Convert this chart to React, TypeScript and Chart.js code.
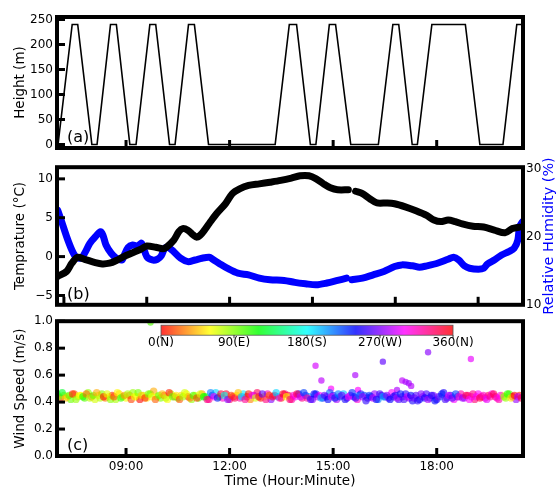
import { useEffect, useRef } from 'react';
import { Chart, registerables } from 'chart.js';

Chart.register(...registerables);

// ---------- data ----------
const heightTimes = [7.03, 7.44, 7.60, 8.01, 8.16, 8.55, 8.72, 9.11, 9.29, 9.69, 9.86, 10.26, 10.42, 10.81, 10.98, 11.39, 13.32, 13.73, 13.94, 14.34, 14.50, 14.89, 15.07, 15.51, 16.31, 16.73, 16.90, 17.29, 17.44, 17.86, 18.83, 19.25, 19.92, 20.32, 20.5];
const heightValues = [0, 240, 240, 0, 0, 240, 240, 0, 0, 240, 240, 0, 0, 240, 240, 0, 0, 240, 240, 0, 0, 240, 240, 0, 0, 240, 240, 0, 0, 240, 240, 0, 0, 240, 240];

const tempTimes = [7.02, 7.28, 7.43, 7.59, 7.80, 8.11, 8.31, 8.52, 8.72, 8.93, 9.19, 9.45, 9.60, 9.86, 10.07, 10.17, 10.38, 10.53, 10.64, 10.79, 10.95, 11.05, 11.20, 11.41, 11.62, 11.88, 12.08, 12.29, 12.55, 12.86, 13.17, 13.48, 13.79, 14.04, 14.30, 14.51, 14.72, 14.92, 15.13, 15.44, 15.55, 15.65, 15.85, 16.06, 16.27, 16.57, 16.78, 17.09, 17.40, 17.71, 17.92, 18.12, 18.33, 18.54, 18.74, 19.05, 19.36, 19.67, 19.98, 20.19, 20.40];
const tempValues = [-2.55, -1.9, -0.85, -0.1, -0.35, -0.77, -0.94, -0.85, -0.5, 0, 0.5, 1.0, 1.36, 1.2, 1.0, 1.2, 2.1, 3.2, 3.6, 3.4, 2.77, 2.5, 3.0, 4.26, 5.5, 6.8, 8.1, 8.7, 9.15, 9.36, 9.57, 9.8, 10.1, 10.4, 10.4, 10.0, 9.36, 8.85, 8.6, 8.6, null, 8.4, 8.1, 7.45, 6.9, 6.9, 6.8, 6.4, 5.9, 5.3, 4.7, 4.5, 4.7, 4.5, 4.2, 3.9, 3.8, 3.4, 3.06, 3.6, 3.8];

const rhTimes = [7.02, 7.12, 7.28, 7.43, 7.54, 7.69, 7.80, 7.95, 8.11, 8.26, 8.33, 8.42, 8.57, 8.72, 8.88, 8.95, 9.06, 9.19, 9.34, 9.45, 9.60, 9.76, 9.91, 10.02, 10.12, 10.22, 10.38, 10.58, 10.79, 11.00, 11.20, 11.41, 11.51, 11.72, 11.93, 12.24, 12.55, 12.86, 13.17, 13.58, 13.89, 14.20, 14.51, 14.82, 15.13, 15.39, 15.47, 15.54, 15.85, 16.16, 16.47, 16.78, 16.99, 17.30, 17.50, 17.71, 18.02, 18.33, 18.49, 18.64, 18.80, 18.95, 19.21, 19.36, 19.47, 19.67, 19.88, 20.09, 20.24, 20.35, 20.40, 20.48];
const rhValues = [23.88, 22.42, 19.99, 18.04, 17.08, 16.84, 17.57, 19.02, 19.99, 20.72, 20.24, 18.78, 17.57, 16.84, 16.58, 17.31, 18.43, 18.78, 18.63, 19.02, 17.08, 16.58, 16.69, 17.18, 18.28, 18.43, 17.81, 16.84, 16.34, 16.58, 16.84, 16.97, 16.69, 16.00, 15.37, 14.64, 14.40, 13.91, 13.67, 13.58, 13.29, 13.09, 12.94, 13.20, 13.58, 13.91, null, 13.67, 13.91, 14.40, 14.90, 15.61, 15.86, 15.72, 15.52, 15.72, 16.10, 16.69, 16.97, 16.58, 15.72, 15.37, 15.23, 15.37, 16.00, 16.58, 17.31, 17.81, 18.28, 19.51, 21.45, 22.18];

const windTimes = [
  7.0, 7.1, 7.2, 7.3, 7.4, 7.5, 7.6, 7.7, 7.8, 7.9,
  8.0, 8.1, 8.2, 8.3, 8.4, 8.5, 8.6, 8.7, 8.8, 8.9,
  9.0, 9.1, 9.2, 9.3, 9.4, 9.5, 9.6, 9.7, 9.8, 9.9,
  10.0, 10.1, 10.2, 10.3, 10.4, 10.5, 10.6, 10.7, 10.8, 10.9,
  11.0, 11.1, 11.2, 11.3, 11.4, 11.5, 11.6, 11.7, 11.8, 11.9,
  12.0, 12.1, 12.2, 12.3, 12.4, 12.5, 12.6, 12.7, 12.8, 12.9,
  13.0, 13.1, 13.2, 13.3, 13.4, 13.5, 13.6, 13.7, 13.8, 13.9,
  14.0, 14.1, 14.2, 14.3, 14.4, 14.5, 14.6, 14.7, 14.8, 14.9,
  15.0, 15.1, 15.2, 15.3, 15.4, 15.5, 15.6, 15.7, 15.8, 15.9,
  16.0, 16.1, 16.2, 16.3, 16.4, 16.5, 16.6, 16.7, 16.8, 16.9,
  17.0, 17.1, 17.2, 17.3, 17.4, 17.5, 17.6, 17.7, 17.8, 17.9,
  18.0, 18.1, 18.2, 18.3, 18.4, 18.5, 18.6, 18.7, 18.8, 18.9,
  19.0, 19.1, 19.2, 19.3, 19.4, 19.5, 19.6, 19.7, 19.8, 19.9,
  20.0, 20.1, 20.2, 20.3, 20.4,
];
const windSpeeds = [
  0.46, 0.43, 0.45, 0.44, 0.42, 0.46, 0.44, 0.45, 0.43, 0.47,
  0.44, 0.42, 0.45, 0.46, 0.43, 0.44, 0.45, 0.42, 0.46, 0.44,
  0.43, 0.45, 0.47, 0.44, 0.42, 0.45, 0.43, 0.46, 0.48, 0.44,
  0.43, 0.45, 0.42, 0.46, 0.44, 0.43, 0.45, 0.47, 0.44, 0.42,
  0.45, 0.43, 0.46, 0.44, 0.42, 0.45, 0.47, 0.44, 0.43, 0.46,
  0.42, 0.44, 0.45, 0.43, 0.46, 0.44, 0.42, 0.45, 0.47, 0.43,
  0.44, 0.46, 0.42, 0.45, 0.44, 0.43, 0.46, 0.45, 0.42, 0.44,
  0.46, 0.43, 0.45, 0.44, 0.42, 0.46, 0.45, 0.43, 0.44, 0.47,
  0.45, 0.42, 0.44, 0.46, 0.43, 0.45, 0.44, 0.42, 0.46, 0.45,
  0.43, 0.44, 0.46, 0.42, 0.45, 0.44, 0.43, 0.47, 0.45, 0.42,
  0.44, 0.46, 0.43, 0.41, 0.45, 0.42, 0.44, 0.46, 0.43, 0.45,
  0.42, 0.44, 0.47, 0.43, 0.45, 0.42, 0.44, 0.46, 0.43, 0.45,
  0.44, 0.42, 0.46, 0.44, 0.43, 0.45, 0.46, 0.44, 0.42, 0.45,
  0.43, 0.46, 0.44, 0.42, 0.45,
];
const windDirs = [
  110, 5, 80, 65, 95, 20, 75, 60, 100, 85,
  15, 70, 55, 90, 30, 62, 8, 80, 50, 95,
  58, 25, 85, 65, 2, 72, 55, 100, 40, 68,
  90, 12, 60, 78, 28, 95, 50, 70, 18, 85,
  62, 100, 35, 110, 325, 240, 190, 105, 310, 350,
  335, 10, 60, 320, 185, 355, 30, 280, 340, 5,
  55, 320, 270, 345, 200, 15, 330, 350, 320, 300,
  240, 330, 250, 205, 270, 235, 300, 245, 260, 215,
  250, 280, 230, 195, 255, 270, 240, 310, 245, 225,
  260, 240, 275, 210, 250, 235, 265, 300, 245, 255,
  270, 250, 280, 245, 260, 240, 275, 255, 235, 265,
  250, 205, 245, 270, 240, 300, 260, 320, 285, 330,
  310, 335, 300, 325, 315, 340, 305, 330, 320, 60,
  85, 100, 350, 275, 5,
];
const windTimesHalf = [
  7.05, 7.15, 7.25, 7.35, 7.45, 7.55, 7.65, 7.75, 7.85, 7.95,
  8.05, 8.15, 8.25, 8.35, 8.45, 8.55, 8.65, 8.75, 8.85, 8.95,
  9.05, 9.15, 9.25, 9.35, 9.45, 9.55, 9.65, 9.75, 9.85, 9.95,
  10.05, 10.15, 10.25, 10.35, 10.45, 10.55, 10.65, 10.75, 10.85, 10.95,
  11.05, 11.15, 11.25, 11.35, 11.45, 11.55, 11.65, 11.75, 11.85, 11.95,
  12.05, 12.15, 12.25, 12.35, 12.45, 12.55, 12.65, 12.75, 12.85, 12.95,
  13.05, 13.15, 13.25, 13.35, 13.45, 13.55, 13.65, 13.75, 13.85, 13.95,
  14.05, 14.15, 14.25, 14.35, 14.45, 14.55, 14.65, 14.75, 14.85, 14.95,
  15.05, 15.15, 15.25, 15.35, 15.45, 15.55, 15.65, 15.75, 15.85, 15.95,
  16.05, 16.15, 16.25, 16.35, 16.45, 16.55, 16.65, 16.75, 16.85, 16.95,
  17.05, 17.15, 17.25, 17.35, 17.45, 17.55, 17.65, 17.75, 17.85, 17.95,
  18.05, 18.15, 18.25, 18.35, 18.45, 18.55, 18.65, 18.75, 18.85, 18.95,
  19.05, 19.15, 19.25, 19.35, 19.45, 19.55, 19.65, 19.75, 19.85, 19.95,
  20.05, 20.15, 20.25, 20.35, 20.45,
];
const windSpeedsHalf = [
  0.44, 0.47, 0.43, 0.45, 0.46, 0.42, 0.45, 0.44, 0.46, 0.43,
  0.45, 0.47, 0.43, 0.44, 0.46, 0.42, 0.44, 0.47, 0.43, 0.45,
  0.46, 0.42, 0.44, 0.47, 0.45, 0.43, 0.46, 0.44, 0.42, 0.45,
  0.46, 0.43, 0.47, 0.44, 0.45, 0.42, 0.44, 0.46, 0.43, 0.45,
  0.43, 0.46, 0.44, 0.42, 0.47, 0.44, 0.43, 0.46, 0.45, 0.42,
  0.45, 0.43, 0.47, 0.44, 0.42, 0.46, 0.45, 0.43, 0.44, 0.46,
  0.42, 0.45, 0.44, 0.47, 0.43, 0.46, 0.44, 0.42, 0.45, 0.46,
  0.44, 0.47, 0.43, 0.42, 0.46, 0.44, 0.43, 0.45, 0.42, 0.44,
  0.43, 0.46, 0.45, 0.42, 0.44, 0.47, 0.43, 0.45, 0.44, 0.41,
  0.45, 0.43, 0.42, 0.46, 0.44, 0.45, 0.42, 0.44, 0.43, 0.46,
  0.42, 0.44, 0.45, 0.43, 0.41, 0.46, 0.43, 0.42, 0.45, 0.41,
  0.44, 0.46, 0.42, 0.45, 0.43, 0.46, 0.44, 0.43, 0.45, 0.42,
  0.46, 0.44, 0.43, 0.45, 0.42, 0.44, 0.46, 0.43, 0.45, 0.44,
  0.46, 0.43, 0.45, 0.44, 0.43,
];
const windDirsHalf = [
  90, 130, 45, 100, 10, 85, 60, 115, 25, 75,
  95, 40, 78, 5, 66, 88, 20, 58, 105, 35,
  80, 15, 62, 92, 48, 10, 88, 60, 22, 95,
  45, 75, 8, 98, 55, 20, 82, 64, 30, 105,
  15, 70, 120, 330, 210, 300, 235, 345, 175, 270,
  15, 340, 45, 195, 325, 8, 305, 70, 350, 260,
  330, 20, 345, 190, 315, 355, 60, 335, 310, 345,
  290, 225, 320, 255, 240, 280, 200, 260, 240, 290,
  235, 210, 265, 245, 300, 230, 255, 215, 275, 250,
  230, 285, 245, 255, 200, 270, 240, 250, 280, 235,
  255, 285, 240, 265, 250, 270, 245, 280, 250, 240,
  270, 235, 255, 290, 260, 225, 310, 275, 340, 300,
  330, 300, 345, 315, 295, 325, 340, 310, 300, 85,
  110, 55, 0, 285, 345,
];
const gustTimes = [9.71, 14.49, 14.66, 14.94, 15.64, 15.72, 16.44, 16.85, 17.0, 17.1, 17.19, 17.26, 17.75, 18.99];
const gustSpeeds = [0.99, 0.67, 0.56, 0.50, 0.60, 0.49, 0.70, 0.49, 0.56, 0.55, 0.54, 0.52, 0.77, 0.72];
const gustDirs = [100, 290, 285, 300, 280, 300, 262, 280, 285, 280, 278, 282, 272, 295];

const timeTicks = [9, 12, 15, 18];
const panelBTimeTicks = [7.2, 9.6, 12.0, 14.4, 16.8, 19.2];
const heightTicks = [0, 50, 100, 150, 200, 250];
const tempTicks = [-5, 0, 5, 10];
const rhTicks = [10, 20, 30];
const speedTicks = [0, 0.2, 0.4, 0.6, 0.8, 1.0];
const dirTickValues = [0, 90, 180, 270, 360];
const dirTickLabels = ['0(N)', '90(E)', '180(S)', '270(W)', '360(N)'];

// ---------- helpers ----------
const FONT = '"DejaVu Sans"';
Chart.defaults.font.family = FONT;
Chart.defaults.font.size = 12;
Chart.defaults.color = '#000';

const dirColor = (d: number, a: number) => `hsla(${d % 360}, 100%, 50%, ${a})`;
const fmtTime = (v: number) => `${String(Math.floor(v)).padStart(2, '0')}:00`;
const minus = (s: string) => s.replace('-', '\u2212');

const setTicks = (vals: number[]) => (s: any) => {
  s.ticks = vals.map((v) => ({ value: v }));
};

const framePlugin = {
  id: 'frame',
  afterDatasetsDraw(chart: any, _args: any, opts: any) {
    const { ctx, chartArea: ca } = chart;
    ctx.save();
    ctx.strokeStyle = '#000';
    ctx.lineWidth = 3;
    const ys = chart.scales[opts.yId || 'y'];
    for (const v of opts.yTicks || []) {
      const y = ys.getPixelForValue(v);
      ctx.beginPath();
      ctx.moveTo(ca.left, y);
      ctx.lineTo(ca.left + 8, y);
      ctx.stroke();
    }
    const xs = chart.scales.x;
    for (const v of opts.xTicks || []) {
      const x = xs.getPixelForValue(v);
      ctx.beginPath();
      ctx.moveTo(x, ca.bottom);
      ctx.lineTo(x, ca.bottom - 8);
      ctx.stroke();
    }
    if (opts.colorbar) {
      const x0 = ca.left + (ca.right - ca.left) * 0.2232;
      const x1 = ca.left + (ca.right - ca.left) * 0.8498;
      const y0 = ca.top + 4;
      const h = 10;
      const g = ctx.createLinearGradient(x0, 0, x1, 0);
      for (let d = 0; d <= 360; d += 15) g.addColorStop(d / 360, dirColor(d, 0.8));
      ctx.fillStyle = g;
      ctx.fillRect(x0, y0, x1 - x0, h);
      ctx.lineWidth = 0.8;
      ctx.strokeStyle = '#555';
      ctx.strokeRect(x0, y0, x1 - x0, h);
      ctx.fillStyle = '#000';
      ctx.font = `12px ${FONT}`;
      ctx.textAlign = 'center';
      ctx.textBaseline = 'top';
      ctx.lineWidth = 0.8;
      ctx.strokeStyle = '#000';
      dirTickValues.forEach((d, i) => {
        const x = x0 + ((x1 - x0) * d) / 360;
        ctx.beginPath();
        ctx.moveTo(x, y0 + h);
        ctx.lineTo(x, y0 + h + 3);
        ctx.stroke();
        ctx.fillText(dirTickLabels[i], x, y0 + h + 2);
      });
    }
    ctx.lineWidth = 4;
    ctx.strokeStyle = '#000';
    ctx.strokeRect(ca.left, ca.top, ca.right - ca.left, ca.bottom - ca.top);
    if (opts.label) {
      ctx.fillStyle = '#000';
      ctx.font = `16px ${FONT}`;
      ctx.textAlign = 'left';
      ctx.textBaseline = 'middle';
      ctx.fillText(opts.label, ca.left + 10, ca.bottom - 10);
    }
    if (opts.rightTitle) {
      ctx.save();
      ctx.translate(549, (ca.top + ca.bottom) / 2);
      ctx.rotate(-Math.PI / 2);
      ctx.fillStyle = '#0000ff';
      ctx.font = `14.4px ${FONT}`;
      ctx.textAlign = 'center';
      ctx.textBaseline = 'middle';
      ctx.fillText(opts.rightTitle, 0, 0);
      ctx.restore();
    }
    ctx.restore();
  },
};

const hiddenX = { type: 'linear', display: false, min: 7, max: 20.5 };

const leftY = (min: number, max: number, ticks: number[], title: string, fmt: (v: number) => string) => ({
  type: 'linear',
  position: 'left',
  min,
  max,
  afterBuildTicks: setTicks(ticks),
  afterFit: (s: any) => {
    s.width = 57;
  },
  grid: { display: false, drawTicks: false },
  border: { display: false },
  ticks: { padding: 4, color: '#000', font: { size: 12 }, callback: (v: any) => fmt(Number(v)) },
  title: { display: true, text: title, color: '#000', font: { size: 13.5 }, padding: { top: 12, bottom: 0 } },
});

export default function App() {
  const refA = useRef<HTMLCanvasElement>(null);
  const refB = useRef<HTMLCanvasElement>(null);
  const refC = useRef<HTMLCanvasElement>(null);

  useEffect(() => {
    const charts: Chart[] = [];

    charts.push(
      new Chart(refA.current!, {
        type: 'line',
        data: {
          datasets: [
            {
              data: heightTimes.map((t, i) => ({ x: t, y: heightValues[i] })),
              borderColor: '#000',
              borderWidth: 1.6,
              pointRadius: 0,
              tension: 0,
            },
          ],
        },
        options: {
          responsive: false,
          animation: false,
          devicePixelRatio: 1,
          layout: { padding: { top: 17, bottom: 12, left: 0, right: 35 } },
          scales: {
            x: hiddenX as any,
            y: leftY(-7, 255, heightTicks, 'Height (m)', (v) => String(v)) as any,
          },
          plugins: {
            legend: { display: false },
            tooltip: { enabled: false },
            frame: { yTicks: heightTicks, xTicks: timeTicks, label: '(a)' },
          } as any,
        },
        plugins: [framePlugin],
      })
    );

    charts.push(
      new Chart(refB.current!, {
        type: 'line',
        data: {
          datasets: [
            {
              data: tempTimes.map((t, i) => ({ x: t, y: tempValues[i] })) as any,
              borderColor: '#000',
              borderWidth: 7,
              borderCapStyle: 'round',
              borderJoinStyle: 'round',
              pointRadius: 0,
              tension: 0.3,
              spanGaps: false,
              yAxisID: 'y',
            },
            {
              data: rhTimes.map((t, i) => ({ x: t, y: rhValues[i] })) as any,
              borderColor: '#0000ff',
              borderWidth: 7,
              borderCapStyle: 'round',
              borderJoinStyle: 'round',
              pointRadius: 0,
              tension: 0.3,
              spanGaps: false,
              yAxisID: 'y2',
            },
          ],
        },
        options: {
          responsive: false,
          animation: false,
          devicePixelRatio: 1,
          layout: { padding: { top: 10.5, bottom: 11, left: 0, right: 0 } },
          scales: {
            x: hiddenX as any,
            y: leftY(-6.2, 11.5, tempTicks, 'Temprature (\u00B0C)', (v) => minus(String(v))) as any,
            y2: {
              type: 'linear',
              position: 'right',
              min: 10,
              max: 30.2,
              afterBuildTicks: setTicks(rhTicks),
              afterFit: (s: any) => {
                s.width = 35;
              },
              grid: { display: false, drawTicks: false },
              border: { display: false },
              ticks: { padding: 3, color: '#000', font: { size: 12 } },
            } as any,
          },
          plugins: {
            legend: { display: false },
            tooltip: { enabled: false },
            frame: { yTicks: tempTicks, xTicks: panelBTimeTicks, label: '(b)', rightTitle: 'Relative Humidity (%)' },
          } as any,
        },
        plugins: [framePlugin],
      })
    );

    const bandTimes = windTimes.concat(windTimesHalf);
    const bandSpeeds = windSpeeds.concat(windSpeedsHalf);
    const bandDirs = windDirs.concat(windDirsHalf);

    charts.push(
      new Chart(refC.current!, {
        type: 'scatter',
        data: {
          datasets: [
            {
              data: bandTimes.map((t, i) => ({ x: t, y: bandSpeeds[i] })),
              pointRadius: 3.7,
              pointBorderWidth: 0,
              pointBackgroundColor: bandDirs.map((d) => dirColor(d, 0.6)),
            },
            {
              data: gustTimes.map((t, i) => ({ x: t, y: gustSpeeds[i] })),
              pointRadius: 3.2,
              pointBorderWidth: 0,
              pointBackgroundColor: gustDirs.map((d) => dirColor(d, 0.65)),
            },
          ],
        },
        options: {
          responsive: false,
          animation: false,
          devicePixelRatio: 1,
          layout: { padding: { top: 9, bottom: 0, left: 0, right: 35 } },
          scales: {
            x: {
              type: 'linear',
              min: 7,
              max: 20.5,
              afterBuildTicks: setTicks(timeTicks),
              afterFit: (s: any) => {
                s.height = 36;
              },
              grid: { display: false, drawTicks: false },
              border: { display: false },
              ticks: { padding: 4, color: '#000', font: { size: 12 }, maxRotation: 0, callback: (v: any) => fmtTime(Number(v)) },
              title: { display: true, text: 'Time (Hour:Minute)', color: '#000', font: { size: 13.5 }, padding: { top: 0, bottom: 2 } },
            } as any,
            y: leftY(0, 1, speedTicks, 'Wind Speed (m/s)', (v) => v.toFixed(1)) as any,
          },
          plugins: {
            legend: { display: false },
            tooltip: { enabled: false },
            frame: { yTicks: speedTicks, xTicks: timeTicks, label: '(c)', colorbar: true },
          } as any,
        },
        plugins: [framePlugin],
      })
    );

    return () => charts.forEach((c) => c.destroy());
  }, []);

  return (
    <div style={{ position: 'absolute', left: 0, top: 0, width: 558, height: 492, background: '#fff', overflow: 'hidden' }}>
      <canvas ref={refA} width={558} height={160} style={{ position: 'absolute', left: 0, top: 0 }} />
      <canvas ref={refB} width={558} height={160} style={{ position: 'absolute', left: 0, top: 156 }} />
      <canvas ref={refC} width={558} height={182} style={{ position: 'absolute', left: 0, top: 310 }} />
    </div>
  );
}
